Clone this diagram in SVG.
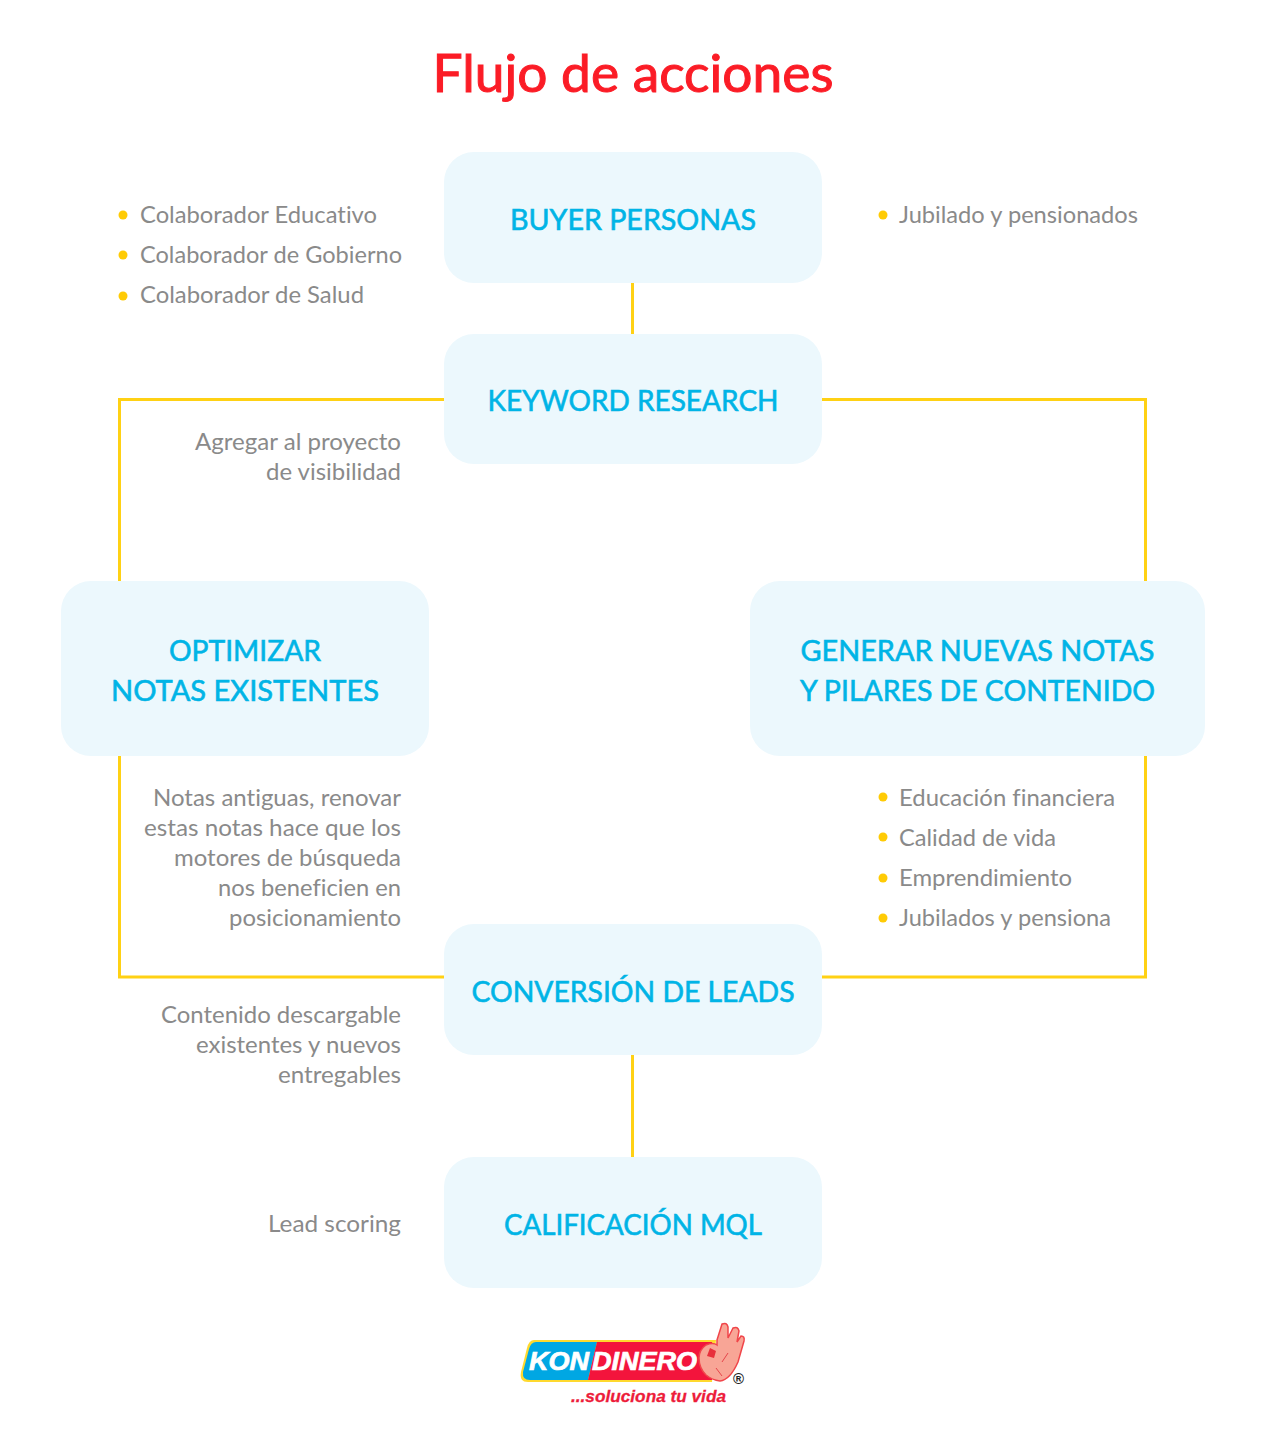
<svg xmlns="http://www.w3.org/2000/svg" width="1266" height="1435" viewBox="0 0 1266 1435">
<style>
text{font-family:"Lato","Noto Sans",sans-serif;font-variant-ligatures:none}
.box{fill:#ecf8fd}
.h{font-size:28px;fill:#00b4e6;stroke:#00b4e6;stroke-width:.6;text-anchor:middle}
.t{font-size:23px;fill:#8a8a8a}
.r{text-anchor:end}
.d{fill:#ffcb05}
.c{fill:none;stroke:#ffd114;stroke-width:3}
.logo{font-family:"Liberation Sans",sans-serif;font-weight:700;font-style:italic}
</style>
<rect width="1266" height="1435" fill="#fff"/>
<text x="633" y="92" text-anchor="middle" font-size="52" fill="#fb1c26" stroke="#fb1c26" stroke-width="1" textLength="401" lengthAdjust="spacingAndGlyphs">Flujo de acciones</text>
<g id="connectors">
<path class="c" d="M632.500 282V334M444 399.500H119.500V581M822 399.500H1145.500V581M119.500 755V977H444M1145.500 755V977H822M632.500 1055V1157"/>
</g>
<g id="buyer"><rect class="box" x="444" y="152" width="378" height="131" rx="30"/><text class="h" x="633" y="229.500" textLength="246" lengthAdjust="spacingAndGlyphs">BUYER PERSONAS</text></g>
<g id="keyword"><rect class="box" x="444" y="334" width="378" height="130" rx="30"/><text class="h" x="633" y="410.500" textLength="291" lengthAdjust="spacingAndGlyphs">KEYWORD RESEARCH</text></g>
<g id="optimizar"><rect class="box" x="61" y="581" width="368" height="175" rx="30"/><text class="h" x="245" y="660.500" textLength="152" lengthAdjust="spacingAndGlyphs">OPTIMIZAR</text><text class="h" x="245" y="700.500" textLength="268" lengthAdjust="spacingAndGlyphs">NOTAS EXISTENTES</text></g>
<g id="generar"><rect class="box" x="750" y="581" width="455" height="175" rx="30"/><text class="h" x="977.500" y="660.500" textLength="354" lengthAdjust="spacingAndGlyphs">GENERAR NUEVAS NOTAS</text><text class="h" x="977.500" y="700.500" textLength="355" lengthAdjust="spacingAndGlyphs">Y PILARES DE CONTENIDO</text></g>
<g id="conversion"><rect class="box" x="444" y="924" width="378" height="131" rx="30"/><text class="h" x="633" y="1001.500" textLength="323" lengthAdjust="spacingAndGlyphs">CONVERSIÓN DE LEADS</text></g>
<g id="calificacion"><rect class="box" x="444" y="1157" width="378" height="131" rx="30"/><text class="h" x="633" y="1234.500" textLength="258" lengthAdjust="spacingAndGlyphs">CALIFICACIÓN MQL</text></g>
<g id="notes-buyer-left">
<circle class="d" cx="123" cy="215" r="4.500"/><text class="t" x="140" y="223" textLength="237" lengthAdjust="spacingAndGlyphs">Colaborador Educativo</text>
<circle class="d" cx="123" cy="255" r="4.500"/><text class="t" x="140" y="263" textLength="262" lengthAdjust="spacingAndGlyphs">Colaborador de Gobierno</text>
<circle class="d" cx="123" cy="296" r="4.500"/><text class="t" x="140" y="303" textLength="224" lengthAdjust="spacingAndGlyphs">Colaborador de Salud</text>
</g>
<g id="notes-buyer-right"><circle class="d" cx="883" cy="215" r="4.500"/><text class="t" x="899" y="223" textLength="239" lengthAdjust="spacingAndGlyphs">Jubilado y pensionados</text></g>
<g id="notes-keyword">
<text class="t r" x="401" y="450" textLength="206" lengthAdjust="spacingAndGlyphs">Agregar al proyecto</text>
<text class="t r" x="401" y="480" textLength="135" lengthAdjust="spacingAndGlyphs">de visibilidad</text>
</g>
<g id="notes-optimizar">
<text class="t r" x="401" y="806" textLength="248" lengthAdjust="spacingAndGlyphs">Notas antiguas, renovar</text>
<text class="t r" x="401" y="836" textLength="257" lengthAdjust="spacingAndGlyphs">estas notas hace que los</text>
<text class="t r" x="401" y="866" textLength="227" lengthAdjust="spacingAndGlyphs">motores de búsqueda</text>
<text class="t r" x="401" y="896" textLength="183" lengthAdjust="spacingAndGlyphs">nos beneficien en</text>
<text class="t r" x="401" y="926" textLength="172" lengthAdjust="spacingAndGlyphs">posicionamiento</text>
</g>
<g id="notes-generar">
<circle class="d" cx="883" cy="797" r="4.500"/><text class="t" x="899" y="806" textLength="216" lengthAdjust="spacingAndGlyphs">Educación financiera</text>
<circle class="d" cx="883" cy="837" r="4.500"/><text class="t" x="899" y="846" textLength="157" lengthAdjust="spacingAndGlyphs">Calidad de vida</text>
<circle class="d" cx="883" cy="878" r="4.500"/><text class="t" x="899" y="886" textLength="173" lengthAdjust="spacingAndGlyphs">Emprendimiento</text>
<circle class="d" cx="883" cy="918" r="4.500"/><text class="t" x="899" y="926" textLength="212" lengthAdjust="spacingAndGlyphs">Jubilados y pensiona</text>
</g>
<g id="notes-conversion">
<text class="t r" x="401" y="1023" textLength="240" lengthAdjust="spacingAndGlyphs">Contenido descargable</text>
<text class="t r" x="401" y="1053" textLength="205" lengthAdjust="spacingAndGlyphs">existentes y nuevos</text>
<text class="t r" x="401" y="1083" textLength="123" lengthAdjust="spacingAndGlyphs">entregables</text>
</g>
<g id="notes-calificacion"><text class="t r" x="401" y="1232" textLength="133" lengthAdjust="spacingAndGlyphs">Lead scoring</text></g>
<g id="logo">
<path d="M534 1340H716L712 1382H528Q519 1382 521 1372L527 1348Q529 1340 534 1340Z" fill="#ffd92e"/>
<path d="M536 1342H597L588 1380H530Q522 1380 523 1372L529 1349Q531 1342 536 1342Z" fill="#00a7e3"/>
<path d="M597 1342H712V1380H588Z" fill="#f3143c"/>
<path d="M717 1340L722 1324Q727 1322 728 1327L728 1338L733 1328Q738 1326 739 1331L737 1342L741 1336Q745 1336 744 1341L738 1362Q730 1380 720 1381Q712 1380 706 1375Q699 1368 699 1358Q699 1350 706 1345Q713 1342 717 1345Z" fill="#f8a596" stroke="#f0454a" stroke-width="1.500"/>
<path d="M710 1348L716 1351L714 1358L707 1356Z" fill="#e8303c"/>
<path d="M722 1362L728 1353M716 1368L722 1376" fill="none" stroke="#e5454a" stroke-width="1"/>
<text class="logo" x="529" y="1370" font-size="25" fill="#fff" stroke="#fff" stroke-width=".7" textLength="60" lengthAdjust="spacingAndGlyphs">KON</text>
<text class="logo" x="592" y="1370" font-size="25" fill="#fff" stroke="#fff" stroke-width=".7" textLength="105" lengthAdjust="spacingAndGlyphs">DINERO</text>
<text class="logo" x="571" y="1402" font-size="17" fill="#ed1c3a" stroke="#ed1c3a" stroke-width=".3" textLength="155" lengthAdjust="spacingAndGlyphs">...soluciona tu vida</text>
<text x="733" y="1384" font-size="15" font-weight="700" fill="#222" style="font-family:'Liberation Sans',sans-serif">®</text>
</g>
</svg>
